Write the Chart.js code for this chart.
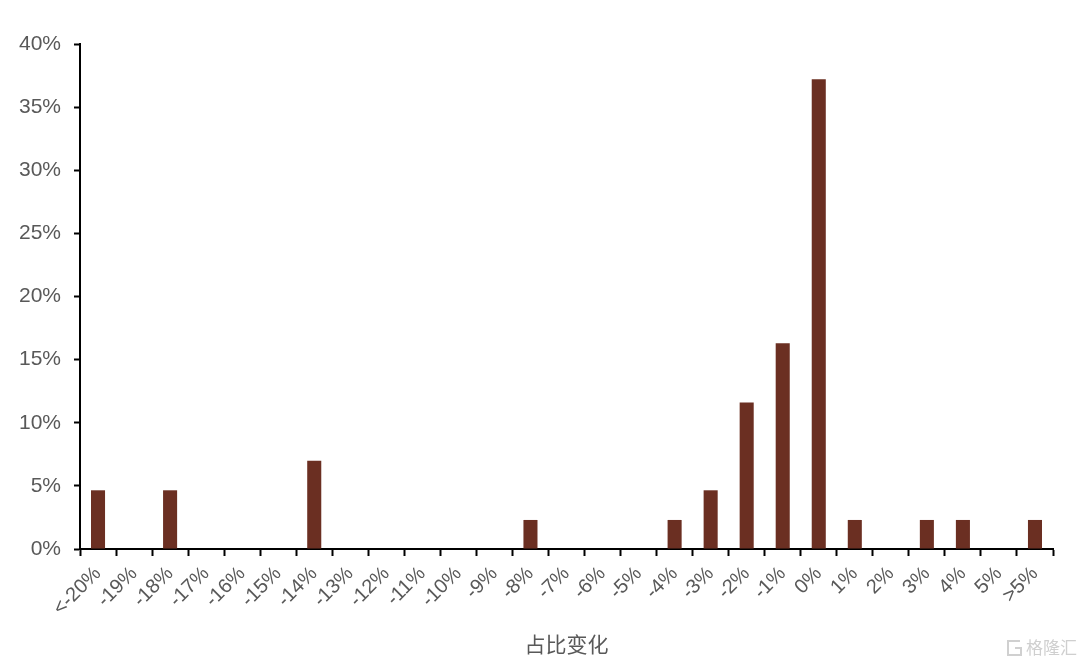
<!DOCTYPE html>
<html>
<head>
<meta charset="utf-8">
<script src="https://cdn.jsdelivr.net/npm/chart.js@4/dist/chart.umd.min.js"></script>
<style>
  html, body { margin: 0; padding: 0; background: #fff; }
  #wrap { width: 1080px; height: 663px; position: relative; }
</style>
</head>
<body>
<div id="wrap"><canvas id="c" width="1080" height="663"></canvas></div>
<script>
/* ---------- data ---------- */
var categories = ['<-20%', '-19%', '-18%', '-17%', '-16%', '-15%', '-14%', '-13%', '-12%', '-11%',
  '-10%', '-9%', '-8%', '-7%', '-6%', '-5%', '-4%', '-3%', '-2%', '-1%',
  '0%', '1%', '2%', '3%', '4%', '5%', '>5%'];
var shares = [4.65, 0, 4.65, 0, 0, 0, 7.0, 0, 0, 0,
  0, 0, 2.3, 0, 0, 0, 2.3, 4.65, 11.6, 16.3,
  37.2, 2.3, 0, 2.3, 2.3, 0, 2.3];
var yTicks = [0, 5, 10, 15, 20, 25, 30, 35, 40];
var xTitle = '占比变化';

var TEXT = '#595959';
var BAR = '#6b2f22';
var FONT = "'Liberation Sans', Arial, sans-serif";

/* faint watermark, bottom right */
var watermark = {
  id: 'watermark',
  afterDraw: function (chart) {
    var ctx = chart.ctx;
    ctx.save();
    ctx.strokeStyle = '#d0d0d0';
    ctx.lineWidth = 2;
    ctx.beginPath();
    ctx.moveTo(1020, 641); ctx.lineTo(1008, 641); ctx.lineTo(1008, 655);
    ctx.lineTo(1021, 655); ctx.lineTo(1021, 648); ctx.lineTo(1015, 648);
    ctx.stroke();
    ctx.fillStyle = '#cfcfcf';
    ctx.font = "17px 'Noto Sans CJK SC', sans-serif";
    ctx.textBaseline = 'middle';
    ctx.fillText('格隆汇', 1026, 648);
    ctx.restore();
  }
};

new Chart(document.getElementById('c'), {
  type: 'bar',
  data: {
    labels: categories,
    datasets: [{
      data: shares,
      backgroundColor: BAR,
      borderWidth: 0,
      barPercentage: 0.39,
      categoryPercentage: 1
    }]
  },
  options: {
    responsive: false,
    animation: false,
    devicePixelRatio: 1,
    layout: { padding: { left: 0, right: 27, top: 44, bottom: 6 } },
    plugins: { legend: { display: false }, tooltip: { enabled: false } },
    scales: {
      x: {
        offset: true,
        grid: { offset: true, drawOnChartArea: false, tickLength: 7, tickColor: '#000', tickWidth: 2 },
        border: { color: '#000', width: 2 },
        ticks: {
          color: TEXT, font: { family: FONT, size: 20 },
          minRotation: 45, maxRotation: 45, autoSkip: false, padding: 6
        },
        title: {
          display: true, text: xTitle, color: TEXT,
          font: { family: "'Noto Sans CJK SC', sans-serif", size: 21 },
          padding: { top: 6, bottom: 0 }
        },
        afterFit: function (s) { s.height = 108; }
      },
      y: {
        min: 0, max: 40,
        afterBuildTicks: function (s) { s.ticks = yTicks.map(function (v) { return { value: v }; }); },
        grid: { drawOnChartArea: false, tickLength: 6, tickColor: '#000', tickWidth: 2 },
        border: { color: '#000', width: 2 },
        ticks: {
          color: TEXT, font: { family: FONT, size: 21 }, padding: 13,
          callback: function (v) { return v + '%'; }
        },
        afterFit: function (s) { s.width = 80; }
      }
    }
  },
  plugins: [watermark]
});
</script>
</body>
</html>
